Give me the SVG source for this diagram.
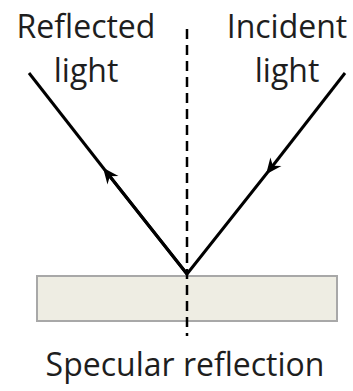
<svg xmlns="http://www.w3.org/2000/svg" width="353" height="391" viewBox="0 0 353 391">
<style>
.t{font-family:"Open Sans","Noto Sans","Liberation Sans",sans-serif;font-size:32px;fill:#1e1e1e;text-anchor:middle}
.ray{stroke:#000;stroke-width:3;fill:none}
</style>
<defs>
<marker id="ah" viewBox="0 0 16 16" refX="8" refY="8" markerWidth="16" markerHeight="16" markerUnits="userSpaceOnUse" orient="auto">
<path d="M16,8 L0,1 L5,8 L0,15 Z" fill="#000"/>
</marker>
</defs>
<rect width="353" height="391" fill="#fff"/>
<g id="surface">
<rect x="37" y="276" width="300" height="45" fill="#eeede3" stroke="#a8a8a8" stroke-width="2"/>
</g>
<g id="normal">
<line x1="187" y1="29" x2="187" y2="336" stroke="#000" stroke-width="2.5" stroke-dasharray="10,6"/>
</g>
<g id="connectors">
<path class="ray" d="M345,73 L271,168" marker-end="url(#ah)"/>
<path class="ray" d="M271,168 L187,274 L108,174"/>
<path class="ray" d="M187,274 L108,174" marker-end="url(#ah)"/>
<path class="ray" d="M108,174 L29,73"/>
</g>
<g id="label-reflected">
<text class="t" x="86" y="38">Reflected</text>
<text class="t" x="86" y="82">light</text>
</g>
<g id="label-incident">
<text class="t" x="287" y="38">Incident</text>
<text class="t" x="287" y="82">light</text>
</g>
<g id="label-specular">
<text class="t" x="185" y="376">Specular reflection</text>
</g>
</svg>
